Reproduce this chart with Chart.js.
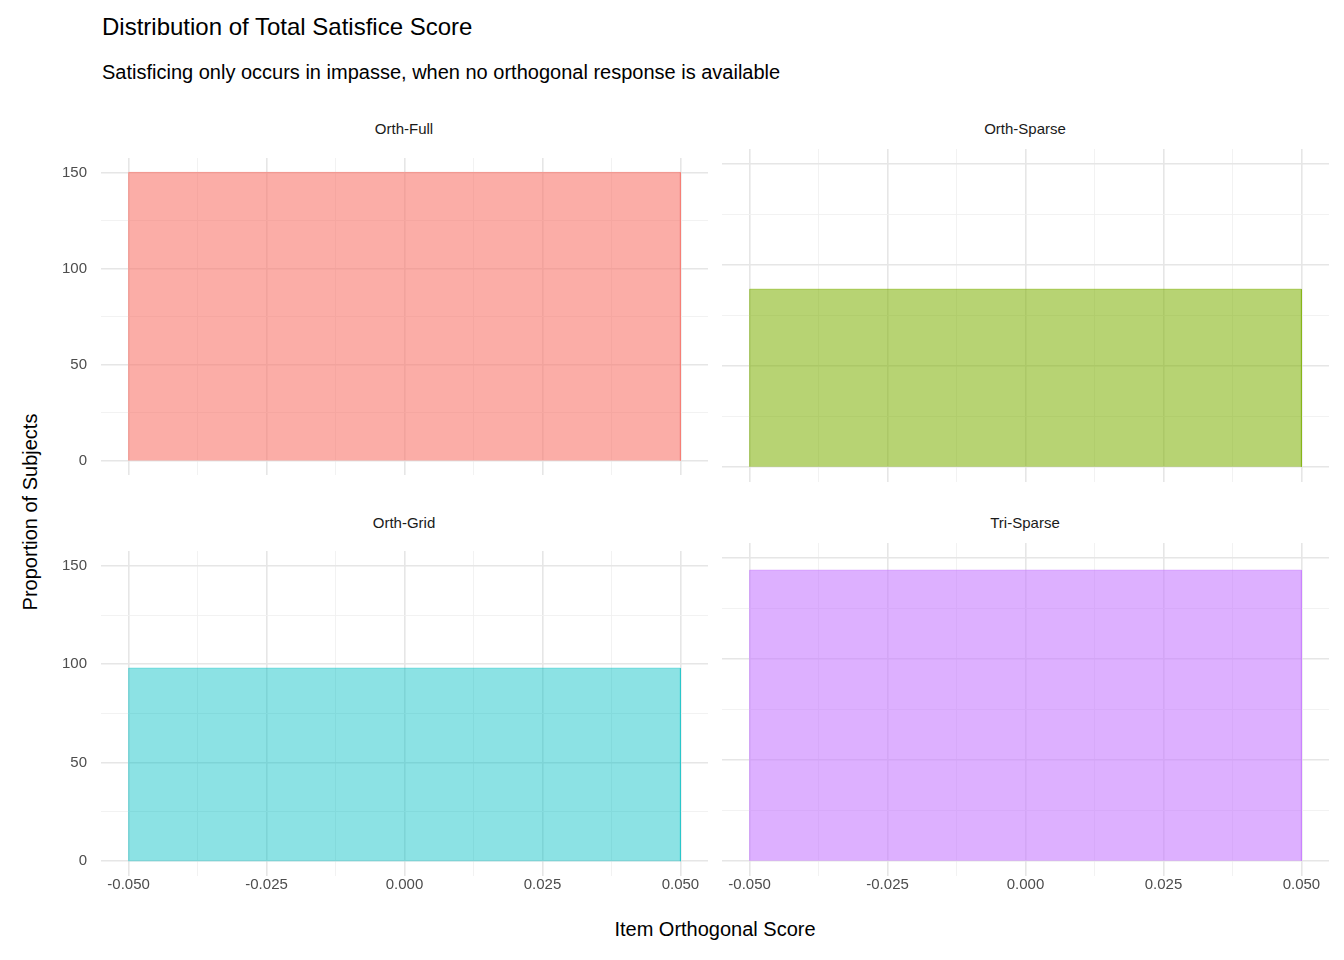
<!DOCTYPE html>
<html><head><meta charset="utf-8">
<script src="https://cdn.jsdelivr.net/npm/chart.js@4"></script>
<style>
body{margin:0;width:1344px;height:960px;background:#fff;font-family:"Liberation Sans",Arial,sans-serif;position:relative;overflow:hidden}
.t{position:absolute;white-space:nowrap;color:#000}
canvas{position:absolute}
</style></head><body>
<div class="t" style="left:102px;top:13px;font-size:24px">Distribution of Total Satisfice Score</div>
<div class="t" style="left:102px;top:61px;font-size:20px">Satisficing only occurs in impasse, when no orthogonal response is available</div>
<div class="t" style="left:0;width:1430px;text-align:center;top:918px;font-size:20px">Item Orthogonal Score</div>
<div class="t" style="left:30px;top:512px;font-size:20px;transform:translate(-50%,-50%) rotate(-90deg)">Proportion of Subjects</div>
<div class="t" style="left:101px;width:606px;text-align:center;top:120px;font-size:15px;color:#1a1a1a">Orth-Full</div>
<div class="t" style="left:722px;width:606px;text-align:center;top:120px;font-size:15px;color:#1a1a1a">Orth-Sparse</div>
<div class="t" style="left:101px;width:606px;text-align:center;top:514px;font-size:15px;color:#1a1a1a">Orth-Grid</div>
<div class="t" style="left:722px;width:606px;text-align:center;top:514px;font-size:15px;color:#1a1a1a">Tri-Sparse</div>
<canvas id="c0"></canvas><canvas id="c1"></canvas><canvas id="c2"></canvas><canvas id="c3"></canvas>
<script>
// facets and counts
const panels = ['Orth-Full', 'Orth-Sparse', 'Orth-Grid', 'Tri-Sparse'];
const counts = [150, 88, 98, 144];
const colors = ['rgba(248,118,109,0.6)', 'rgba(124,174,0,0.55)', 'rgba(0,191,196,0.45)', 'rgba(199,124,255,0.6)'];
const binLeft = -0.05, binRight = 0.05;
const xTicks = [-0.05, -0.0375, -0.025, -0.0125, 0, 0.0125, 0.025, 0.0375, 0.05];
const yTicks = [0, 25, 50, 75, 100, 125, 150];

// left panels get extra room because y tick labels pad the chart area
const boxes = [
  {left: 0, top: 135, w: 708, h: 363, yl: true, xl: false},
  {left: 722, top: 149, w: 607, h: 333, yl: false, xl: false},
  {left: 0, top: 528, w: 708, h: 378, yl: true, xl: true},
  {left: 722, top: 543, w: 607, h: 363, yl: false, xl: true}
];

function isMajor(v, step) { return Math.abs(Math.round(v / step) * step - v) < 1e-9; }

panels.forEach((p, i) => {
  const b = boxes[i];
  const cv = document.getElementById('c' + i);
  cv.style.left = b.left + 'px'; cv.style.top = b.top + 'px';
  cv.style.width = b.w + 'px'; cv.style.height = b.h + 'px';
  const v = counts[i];
  new Chart(cv, {
    type: 'line',
    data: {datasets: [{
      label: p,
      data: [{x: binLeft, y: 0}, {x: binLeft, y: v}, {x: binRight, y: v}, {x: binRight, y: 0}],
      backgroundColor: colors[i], borderColor: colors[i], borderWidth: 1,
      fill: 'origin', pointRadius: 0, tension: 0
    }]},
    options: {
      responsive: false, animation: false, maintainAspectRatio: false,
      layout: {padding: 0},
      plugins: {legend: {display: false}, tooltip: {enabled: false}},
      scales: {
        x: {
          type: 'linear', min: -0.055, max: 0.055,
          afterBuildTicks: s => { s.ticks = xTicks.map(t => ({value: t})); },
          afterFit: s => { s.height = b.xl ? 30 : 0; },
          border: {display: false},
          grid: {color: c => isMajor(c.tick.value, 0.025) ? '#e6e6e6' : '#f0f0f0',
                 lineWidth: c => isMajor(c.tick.value, 0.025) ? 1.6 : 0.9, drawTicks: false},
          ticks: {display: b.xl, autoSkip: false, maxRotation: 0, padding: 0, color: '#4d4d4d',
                  font: {size: 15, family: 'Liberation Sans'},
                  callback: t => isMajor(t, 0.025) ? t.toFixed(3) : ''}
        },
        y: {
          min: -7.5, max: 157.5,
          afterBuildTicks: s => { s.ticks = yTicks.map(t => ({value: t})); },
          afterFit: s => { s.width = b.yl ? 101 : 0; },
          border: {display: false},
          grid: {color: c => c.tick.value % 50 === 0 ? '#e6e6e6' : '#f0f0f0',
                 lineWidth: c => c.tick.value % 50 === 0 ? 1.6 : 0.9, drawTicks: false},
          ticks: {display: b.yl, padding: 14, color: '#4d4d4d',
                  font: {size: 15, family: 'Liberation Sans'},
                  callback: t => t % 50 === 0 ? String(t) : ''}
        }
      }
    }
  });
});
</script>
</body></html>
